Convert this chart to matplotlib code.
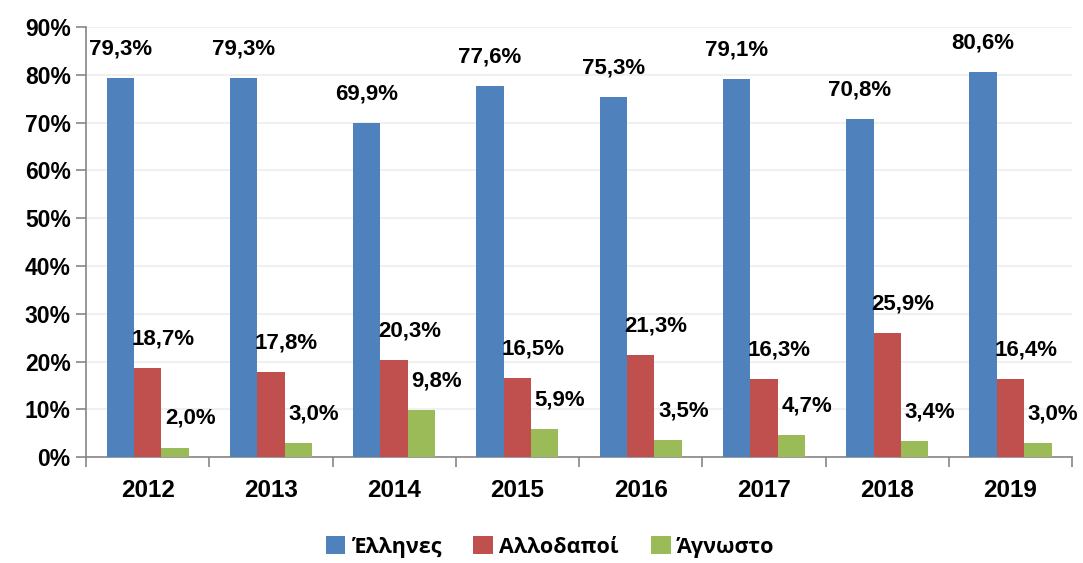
import numpy as np
import matplotlib.pyplot as plt
from matplotlib.ticker import FuncFormatter

# data
years = ['2012', '2013', '2014', '2015', '2016', '2017', '2018', '2019']
ellines = [79.3, 79.3, 69.9, 77.6, 75.3, 79.1, 70.8, 80.6]
allodapoi = [18.7, 17.8, 20.3, 16.5, 21.3, 16.3, 25.9, 16.4]
agnosto = [2.0, 3.0, 9.8, 5.9, 3.5, 4.7, 3.4, 3.0]
series_names = ['Έλληνες', 'Αλλοδαποί', 'Άγνωστο']
colors = ['#4F81BD', '#C0504D', '#9BBB59']

plt.rcParams['font.family'] = ['Liberation Sans', 'DejaVu Sans']
plt.rcParams['font.weight'] = 'bold'

fig = plt.figure(figsize=(10.83, 5.63), dpi=100)
ax = fig.add_axes([0.0794, 0.188, 0.9106, 0.764])

x = np.arange(len(years)) + 0.5
w = 0.222
series = [ellines, allodapoi, agnosto]
label_dx = [0, 11, 11]  # points

for k, (vals, name, c) in enumerate(zip(series, series_names, colors)):
    pos = x + (k - 1) * w
    ax.bar(pos, vals, width=w, color=c, label=name, zorder=3)
    for xi, v in zip(pos, vals):
        ax.annotate(('%.1f%%' % v).replace('.', ','), (xi, v),
                    xytext=(label_dx[k], 21), textcoords='offset points',
                    ha='center', va='center', fontsize=16, fontweight='bold')

ax.set_xlim(0, len(years))
ax.set_ylim(0, 90)
ax.set_yticks(np.arange(0, 91, 10))
ax.yaxis.set_major_formatter(FuncFormatter(lambda v, p: '%d%%' % v))
ax.grid(axis='y', color='#EDEDED', linewidth=1.2, zorder=0)

ax.set_xticks(np.arange(0, len(years) + 1))
ax.set_xticklabels([])
ax.set_xticks(x, minor=True)
ax.set_xticklabels(years, minor=True, fontweight='bold')
ax.tick_params(axis='x', which='minor', length=0, pad=16, labelsize=17.5)
ax.tick_params(axis='x', which='major', length=7, color='#868686', width=1.2)
ax.tick_params(axis='y', length=7, color='#868686', width=1.2, labelsize=16.5, pad=4)
for t in ax.get_yticklabels():
    t.set_fontweight('bold')

for s in ['top', 'right']:
    ax.spines[s].set_visible(False)
for s in ['left', 'bottom']:
    ax.spines[s].set_color('#868686')
    ax.spines[s].set_linewidth(1.2)

fig.legend(loc='lower center', bbox_to_anchor=(0.508, -0.025), ncol=3, frameon=False,
           prop={'family': ['Open Sans', 'DejaVu Sans'], 'weight': 'bold', 'size': 15.5},
           handlelength=0.9, handleheight=0.9, handletextpad=0.3, columnspacing=1.5)

fig.savefig('out.png', dpi=100)
